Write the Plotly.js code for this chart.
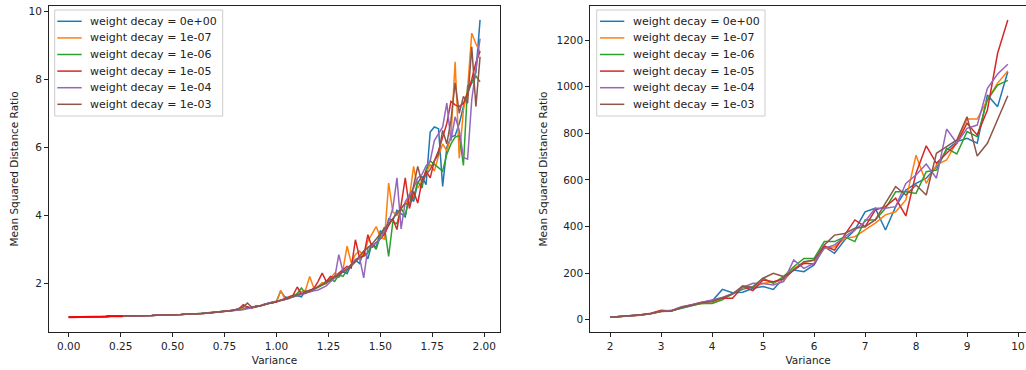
<!DOCTYPE html>
<html>
<head>
<meta charset="utf-8">
<script src="https://cdn.plot.ly/plotly-3.0.1.min.js"></script>
<style>html,body{margin:0;padding:0;background:#fff;}#chart{width:1026px;height:370px;}</style>
</head>
<body>
<div id="chart"></div>
<script>
// ---------- data ----------
const seriesLabels = ["weight decay = 0e+00","weight decay = 1e-07","weight decay = 1e-06","weight decay = 1e-05","weight decay = 1e-04","weight decay = 1e-03"];
const seriesColors = ["#1f77b4","#ff7f0e","#2ca02c","#d62728","#9467bd","#8c564b"];

const varLeft = [0.00,0.02,0.04,0.06,0.08,0.10,0.12,0.14,0.16,0.18,0.20,0.22,0.24,0.26,0.28,0.30,0.32,0.34,0.36,0.38,
0.40,0.42,0.44,0.46,0.48,0.50,0.52,0.54,0.56,0.58,0.60,0.62,0.64,0.66,0.68,0.70,0.72,0.74,0.76,0.78,
0.80,0.82,0.84,0.86,0.88,0.90,0.92,0.94,0.96,0.98,1.00,1.02,1.04,1.06,1.08,1.10,1.12,1.14,1.16,1.18,
1.20,1.22,1.24,1.26,1.28,1.30,1.32,1.34,1.36,1.38,1.40,1.42,1.44,1.46,1.48,1.50,1.52,1.54,1.56,1.58,
1.60,1.62,1.64,1.66,1.68,1.70,1.72,1.74,1.76,1.78,1.80,1.82,1.84,1.86,1.88,1.90,1.92,1.94,1.96,1.98];

const left_wd0 = [1.00,1.00,1.01,1.01,1.01,1.02,1.02,1.02,1.02,1.02,1.03,1.03,1.03,1.03,1.03,1.04,1.04,1.04,1.05,1.05,
1.05,1.06,1.06,1.06,1.07,1.07,1.08,1.08,1.09,1.09,1.10,1.11,1.11,1.12,1.13,1.14,1.15,1.16,1.18,1.19,
1.20,1.22,1.24,1.30,1.27,1.33,1.33,1.38,1.41,1.42,1.46,1.77,1.60,1.56,1.62,1.63,1.60,1.78,1.76,1.85,
1.88,1.98,2.06,2.05,2.22,2.18,2.36,2.28,2.55,2.68,2.58,2.95,2.72,3.18,3.05,3.55,3.40,3.90,3.85,4.15,
4.05,3.95,4.60,4.40,4.95,5.15,4.90,6.45,6.60,6.55,4.85,6.00,6.30,6.35,6.70,7.20,7.60,7.90,8.20,9.75];
const left_wd1 = [1.00,1.00,1.01,1.01,1.01,1.02,1.02,1.02,1.02,1.03,1.03,1.03,1.03,1.03,1.03,1.04,1.04,1.04,1.05,1.05,
1.05,1.06,1.06,1.07,1.07,1.07,1.08,1.08,1.09,1.09,1.10,1.11,1.11,1.12,1.13,1.14,1.15,1.16,1.17,1.19,
1.21,1.21,1.25,1.28,1.27,1.30,1.35,1.36,1.40,1.45,1.45,1.79,1.55,1.58,1.60,1.66,1.75,1.80,2.20,1.85,
1.90,2.02,1.98,2.15,2.30,2.25,2.40,3.09,2.60,2.85,2.95,2.80,3.25,3.45,3.67,3.35,3.30,4.95,4.10,4.00,
4.20,4.35,4.50,5.44,4.80,5.00,5.25,5.50,5.30,5.75,6.10,5.90,6.30,8.52,5.68,7.10,7.70,9.36,9.05,8.80];
const left_wd2 = [1.00,1.00,1.01,1.01,1.01,1.02,1.02,1.02,1.02,1.02,1.03,1.03,1.03,1.03,1.03,1.04,1.04,1.04,1.05,1.05,
1.05,1.06,1.06,1.06,1.07,1.07,1.08,1.08,1.09,1.09,1.10,1.11,1.12,1.13,1.13,1.14,1.15,1.16,1.17,1.19,
1.20,1.22,1.23,1.27,1.29,1.30,1.33,1.37,1.40,1.43,1.48,1.50,1.52,1.55,1.62,1.70,1.86,1.70,1.80,1.82,
1.88,1.95,2.00,2.12,2.05,2.25,2.20,2.38,2.50,2.62,2.75,2.80,2.90,3.15,3.00,3.40,3.65,2.79,3.80,3.75,
4.20,4.00,4.60,4.50,5.00,4.80,5.35,5.60,5.50,5.40,5.30,5.80,6.10,6.30,6.35,5.47,7.80,7.90,8.10,7.93];
const left_wd3 = [1.00,1.00,1.01,1.01,1.02,1.02,1.02,1.02,1.02,1.02,1.03,1.03,1.03,1.03,1.03,1.04,1.04,1.04,1.05,1.05,
1.05,1.06,1.06,1.06,1.07,1.07,1.08,1.08,1.09,1.09,1.10,1.10,1.11,1.12,1.13,1.14,1.15,1.16,1.18,1.19,
1.21,1.25,1.37,1.30,1.27,1.32,1.32,1.38,1.40,1.42,1.45,1.50,1.55,1.58,1.65,1.89,1.68,1.75,1.78,1.85,
2.05,2.30,2.05,2.20,2.15,2.30,2.40,2.50,2.45,3.28,2.75,2.80,3.43,3.05,3.20,3.30,3.45,3.70,3.90,3.58,
4.30,5.10,4.20,4.70,4.36,5.00,5.30,5.10,5.60,5.90,6.30,6.70,7.35,7.25,7.20,7.30,7.60,8.00,8.50,8.82];
const left_wd4 = [1.00,1.00,1.01,1.01,1.01,1.02,1.02,1.02,1.02,1.02,1.03,1.03,1.03,1.03,1.03,1.04,1.04,1.04,1.05,1.05,
1.05,1.06,1.06,1.06,1.07,1.07,1.08,1.08,1.09,1.09,1.10,1.11,1.11,1.12,1.13,1.14,1.15,1.16,1.18,1.19,
1.20,1.21,1.23,1.25,1.27,1.30,1.34,1.36,1.42,1.44,1.48,1.50,1.52,1.56,1.60,1.62,1.68,1.72,1.76,1.78,
1.80,1.85,1.92,2.05,2.15,2.84,2.35,2.45,2.55,2.70,2.75,2.16,3.05,3.10,3.20,3.30,3.55,3.80,4.20,5.10,
3.60,4.40,4.60,4.80,5.10,5.20,5.45,5.60,6.20,6.40,6.60,7.30,6.20,6.90,6.50,5.70,5.65,7.40,8.30,9.20];
const left_wd5 = [1.00,1.00,1.01,1.01,1.01,1.02,1.02,1.02,1.02,1.02,1.03,1.03,1.03,1.03,1.03,1.04,1.04,1.04,1.05,1.05,
1.05,1.06,1.06,1.06,1.07,1.07,1.08,1.08,1.09,1.09,1.10,1.11,1.11,1.12,1.13,1.14,1.15,1.16,1.18,1.19,
1.22,1.25,1.30,1.42,1.30,1.31,1.33,1.36,1.40,1.44,1.47,1.50,1.52,1.57,1.60,1.65,1.70,1.72,1.76,1.82,
1.90,1.95,2.02,2.10,2.20,2.25,2.35,2.40,2.55,2.65,2.80,2.95,3.05,3.15,3.30,3.45,3.60,3.75,3.90,4.05,
4.20,4.35,4.30,4.90,5.44,4.95,5.20,5.35,5.60,5.80,6.50,6.10,6.80,7.90,7.00,7.50,7.30,8.96,7.20,8.67];

const varRight = [2.0,2.2,2.4,2.6,2.8,3.0,3.2,3.4,3.6,3.8,4.0,4.2,4.4,4.6,4.8,5.0,5.2,5.4,5.6,5.8,
6.0,6.2,6.4,6.6,6.8,7.0,7.2,7.4,7.6,7.8,8.0,8.2,8.4,8.6,8.8,9.0,9.2,9.4,9.6,9.8];

const right_wd0 = [10,13,17,21,27,36,38,50,60,70,80,130,116,118,135,142,130,178,213,206,
235,313,285,342,385,463,478,385,485,556,585,607,656,728,764,778,757,964,914,1064];
const right_wd1 = [10,12,16,19,25,35,36,52,62,70,72,90,110,138,140,155,163,165,220,245,
255,306,313,349,356,385,414,450,463,514,706,585,664,685,764,861,861,943,1015,1067];
const right_wd2 = [10,13,17,20,26,35,38,50,62,70,70,85,112,130,142,178,156,185,227,263,
263,335,335,356,335,428,428,478,549,549,542,635,642,735,711,807,785,943,1007,1027];
const right_wd3 = [10,12,17,20,28,41,37,54,65,75,82,92,92,142,125,170,163,175,213,242,
239,316,299,364,428,399,470,485,521,445,628,746,671,714,757,843,793,900,1143,1286];
const right_wd4 = [10,13,17,20,27,36,40,56,64,75,85,95,112,138,156,155,149,163,256,220,
242,306,321,356,385,421,478,478,485,585,621,668,607,818,757,821,835,993,1054,1096];
const right_wd5 = [10,13,17,21,27,36,37,53,62,74,78,93,110,145,138,178,199,185,213,249,
256,321,363,370,392,399,428,500,571,535,578,535,714,743,771,871,702,757,857,961];

const leftSeries = [left_wd0,left_wd1,left_wd2,left_wd3,left_wd4,left_wd5];
const rightSeries = [right_wd0,right_wd1,right_wd2,right_wd3,right_wd4,right_wd5];

const xTicksLeft = [0,0.25,0.5,0.75,1.0,1.25,1.5,1.75,2.0];
const yTicksLeft = [2,4,6,8,10];
const xTicksRight = [2,3,4,5,6,7,8,9,10];
const yTicksRight = [0,200,400,600,800,1000,1200];

// ---------- traces ----------
const traces = [];
leftSeries.forEach((ys,i)=>{
  traces.push({x:varLeft,y:ys,type:'scatter',mode:'lines',name:seriesLabels[i],
    line:{color:seriesColors[i],width:1.5},xaxis:'x',yaxis:'y',showlegend:false});
});
// bright red start segment drawn on top
traces.push({x:varLeft.slice(0,14),y:left_wd3.slice(0,14),type:'scatter',mode:'lines',
  line:{color:'#ff0000',width:2},xaxis:'x',yaxis:'y',showlegend:false,hoverinfo:'skip'});
rightSeries.forEach((ys,i)=>{
  traces.push({x:varRight,y:ys,type:'scatter',mode:'lines',name:seriesLabels[i],
    line:{color:seriesColors[i],width:1.5},xaxis:'x2',yaxis:'y2',showlegend:false});
});

const FONT = 'DejaVu Sans, sans-serif';
const TXT = '#222';
const W = 1026, H = 370, MT = 6, MB = 38;
const PH = H - MT - MB;
const px = v => v / W;
const py = v => 1 - (v - MT) / PH;

// ---------- legend boxes (matplotlib-style, drawn as shapes + text) ----------
const shapes = [], annotations = [];
function addLegend(boxL, boxR, handleL, handleR, textX) {
  shapes.push({type:'rect',xref:'paper',yref:'paper',x0:px(boxL),x1:px(boxR),y0:py(116),y1:py(10),
    line:{color:'#cccccc',width:1},fillcolor:'rgba(255,255,255,0.8)',layer:'above'});
  seriesLabels.forEach((lab,i)=>{
    const yc = 21.3 + i*16.6;
    shapes.push({type:'line',xref:'paper',yref:'paper',x0:px(handleL),x1:px(handleR),y0:py(yc),y1:py(yc),
      line:{color:seriesColors[i],width:1.5},layer:'above'});
    annotations.push({xref:'paper',yref:'paper',x:px(textX),y:py(yc),xanchor:'left',yanchor:'middle',
      text:lab,showarrow:false,font:{family:FONT,size:11,color:TXT},xshift:-1});
  });
}
addLegend(54.7, 222.7, 57.3, 81.7, 89.3);
addLegend(596.7, 765, 600, 624.3, 632);

const axBase = {showgrid:false,zeroline:false,showline:true,linecolor:'#222',linewidth:1,
  ticks:'outside',ticklen:4,tickwidth:1,tickcolor:'#222',
  tickfont:{family:FONT,size:10.5,color:TXT}};
const layout = {
  width:W,height:H,
  margin:{l:0,r:0,t:MT,b:MB},
  paper_bgcolor:'#fff',plot_bgcolor:'#fff',
  font:{family:FONT,size:10.5,color:TXT},
  showlegend:false,
  xaxis:Object.assign({},axBase,{domain:[49/W,500/W],range:[-0.095,2.076],mirror:true,
    tickvals:xTicksLeft,tickformat:'.2f',anchor:'y',
    title:{text:'Variance',font:{family:FONT,size:10.5,color:TXT},standoff:6}}),
  yaxis:Object.assign({},axBase,{domain:[0,1],range:[0.565,10.16],mirror:true,
    tickvals:yTicksLeft,anchor:'x',
    title:{text:'Mean Squared Distance Ratio',font:{family:FONT,size:10.5,color:TXT},standoff:7}}),
  xaxis2:Object.assign({},axBase,{domain:[590.3/W,1],range:[1.61,10.157],mirror:true,
    tickvals:xTicksRight,anchor:'y2',
    title:{text:'Variance',font:{family:FONT,size:10.5,color:TXT},standoff:6}}),
  yaxis2:Object.assign({},axBase,{domain:[0,1],range:[-52.8,1345.9],mirror:false,
    tickvals:yTicksRight,anchor:'x2',
    title:{text:'Mean Squared Distance Ratio',font:{family:FONT,size:10.5,color:TXT},standoff:6}}),
  shapes:shapes,
  annotations:annotations
};
Plotly.newPlot('chart',traces,layout,{staticPlot:true,displayModeBar:false});
</script>
</body>
</html>
